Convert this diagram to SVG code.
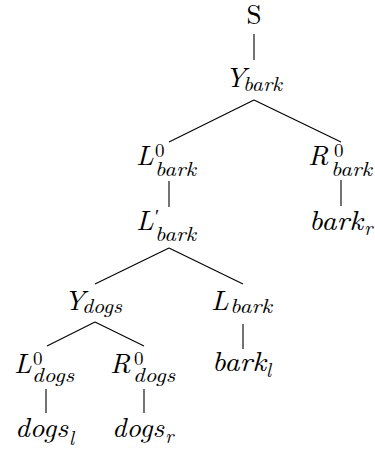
<svg xmlns="http://www.w3.org/2000/svg" width="375" height="452" viewBox="0 0 375 452">
<style>
text{font-family:"Latin Modern Roman","Liberation Serif",serif;fill:#000}
.m{font-size:28px;font-style:italic}
.r{font-size:27px}
.s{font-size:20px;font-style:italic}
.sup{font-size:19px}
line{stroke:#000;stroke-width:1.1}
</style>
<rect width="375" height="452" fill="#fff"/>
<g id="connectors">
<line x1="254" y1="34" x2="254" y2="60"/>
<line x1="254" y1="100" x2="169" y2="142"/>
<line x1="254" y1="100" x2="341" y2="142"/>
<line x1="169" y1="181" x2="169" y2="207"/>
<line x1="341" y1="180" x2="341" y2="206"/>
<line x1="169" y1="248" x2="95" y2="284"/>
<line x1="169" y1="248" x2="243" y2="284"/>
<line x1="95" y1="322" x2="47" y2="346"/>
<line x1="95" y1="322" x2="144" y2="346"/>
<line x1="243" y1="324" x2="243" y2="349"/>
<line x1="46" y1="389" x2="46" y2="413"/>
<line x1="144" y1="389" x2="144" y2="413"/>
</g>
<g id="S"><text class="r" x="254" y="24" text-anchor="middle">S</text></g>
<g id="Y_bark"><text class="m" x="225" y="87">Y</text><text class="s" x="243" y="91" textLength="39" lengthAdjust="spacingAndGlyphs">bark</text></g>
<g id="L0_bark"><text class="m" x="136" y="165">L</text><text class="sup" x="155" y="157">0</text><text class="s" x="155" y="176" textLength="41" lengthAdjust="spacingAndGlyphs">bark</text></g>
<g id="R0_bark"><text class="m" x="308" y="165">R</text><text class="sup" x="334" y="157">0</text><text class="s" x="331" y="176" textLength="41" lengthAdjust="spacingAndGlyphs">bark</text></g>
<g id="Lp_bark"><text class="m" x="136" y="230">L</text><text class="sup" x="155" y="223">′</text><text class="s" x="155" y="241" textLength="41" lengthAdjust="spacingAndGlyphs">bark</text></g>
<g id="bark_r"><text class="m" x="309" y="230" textLength="54" lengthAdjust="spacingAndGlyphs">bark</text><text class="s" x="364" y="235">r</text></g>
<g id="Y_dogs"><text class="m" x="64" y="310">Y</text><text class="s" x="82" y="313" textLength="40" lengthAdjust="spacingAndGlyphs">dogs</text></g>
<g id="L_bark"><text class="m" x="211" y="310">L</text><text class="s" x="230" y="313" textLength="42" lengthAdjust="spacingAndGlyphs">bark</text></g>
<g id="bark_l"><text class="m" x="212" y="371" textLength="54" lengthAdjust="spacingAndGlyphs">bark</text><text class="s" x="266" y="377">l</text></g>
<g id="L0_dogs"><text class="m" x="14" y="373">L</text><text class="sup" x="33" y="365">0</text><text class="s" x="32" y="382" textLength="42" lengthAdjust="spacingAndGlyphs">dogs</text></g>
<g id="R0_dogs"><text class="m" x="110" y="373">R</text><text class="sup" x="134" y="365">0</text><text class="s" x="133" y="382" textLength="42" lengthAdjust="spacingAndGlyphs">dogs</text></g>
<g id="dogs_l"><text class="m" x="15" y="437" textLength="53" lengthAdjust="spacingAndGlyphs">dogs</text><text class="s" x="69" y="445">l</text></g>
<g id="dogs_r"><text class="m" x="112" y="437" textLength="52" lengthAdjust="spacingAndGlyphs">dogs</text><text class="s" x="165" y="443">r</text></g>
</svg>
